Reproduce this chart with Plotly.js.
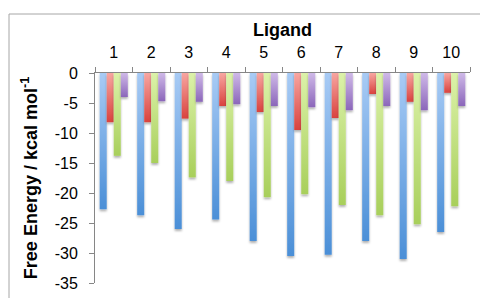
<!DOCTYPE html>
<html>
<head>
<meta charset="utf-8">
<script src="https://cdn.plot.ly/plotly-3.0.1.min.js"></script>
<style>
  html, body { margin: 0; padding: 0; background: #ffffff; }
  #chart { width: 480px; height: 298px; }
</style>
</head>
<body>
<div id="chart"></div>
<script>
// ---- data ----
const ligands = ['1', '2', '3', '4', '5', '6', '7', '8', '9', '10'];
const seriesBlue   = [-22.7, -23.7, -26.0, -24.4, -28.0, -30.5, -30.3, -28.0, -31.0, -26.5];
const seriesRed    = [-8.2, -8.2, -7.6, -5.5, -6.5, -9.5, -7.5, -3.5, -4.8, -3.3];
const seriesGreen  = [-13.8, -15.0, -17.4, -18.0, -20.7, -20.2, -22.0, -23.7, -25.2, -22.2];
const seriesPurple = [-4.0, -4.7, -4.8, -5.2, -5.5, -5.7, -6.2, -5.5, -6.2, -5.5];
const yTicks = [0, -5, -10, -15, -20, -25, -30, -35];

// gradient colours (top -> bottom) and mid colours
const palette = [
  { id: 'gBlue',   top: '#a8cbf5', bottom: '#4b8fd7', mid: '#74a9e7' },
  { id: 'gRed',    top: '#f8a6a1', bottom: '#d9423e', mid: '#ea706b' },
  { id: 'gGreen',  top: '#dcf2a9', bottom: '#a8cf5b', mid: '#c2e182' },
  { id: 'gPurple', top: '#cfb9e8', bottom: '#8b66ba', mid: '#ac8fd2' }
];
const seriesList = [seriesBlue, seriesRed, seriesGreen, seriesPurple];

const traces = seriesList.map((vals, i) => ({
  type: 'bar',
  x: ligands,
  y: vals,
  marker: { color: palette[i].mid, line: { width: 0 } },
  hoverinfo: 'skip',
  showlegend: false
}));

const font = 'Arial, "Liberation Sans", sans-serif';

const layout = {
  width: 480,
  height: 298,
  margin: { l: 95, r: 10, t: 73, b: 15 },
  paper_bgcolor: '#ffffff',
  plot_bgcolor: '#ffffff',
  barmode: 'group',
  bargap: 0.25,
  bargroupgap: 0,
  font: { family: font, color: '#000000', size: 16 },
  xaxis: {
    type: 'category',
    side: 'top',
    showline: true,
    linecolor: '#868686',
    linewidth: 1,
    ticks: 'outside',
    tickson: 'boundaries',
    ticklen: 5,
    tickcolor: '#868686',
    ticklabelstandoff: 8,
    showgrid: false,
    zeroline: false,
    tickfont: { family: font, size: 16, color: '#000000' },
    title: { text: '<b>Ligand</b>', font: { family: font, size: 18, color: '#000000' }, standoff: 2 },
    fixedrange: true
  },
  yaxis: {
    range: [-35, 0],
    tickvals: yTicks,
    ticktext: yTicks.map(String),
    showline: true,
    linecolor: '#868686',
    linewidth: 1,
    ticks: 'outside',
    ticklen: 5,
    tickcolor: '#868686',
    ticklabelstandoff: 8,
    showgrid: false,
    zeroline: false,
    tickfont: { family: font, size: 16, color: '#000000' },
    title: { text: '<b>Free Energy / kcal mol<sup>-1</sup></b>', font: { family: font, size: 18, color: '#000000' }, standoff: 12 },
    fixedrange: true
  },
  shapes: [{
    type: 'rect',
    xref: 'paper', yref: 'paper',
    x0: (9 - 95) / 375, x1: 1.2,
    y0: -0.2, y1: 1 + (73 - 14) / 210,
    line: { color: '#a6a6a6', width: 1 },
    fillcolor: 'rgba(0,0,0,0)',
    layer: 'below'
  }]
};

Plotly.newPlot('chart', traces, layout, { staticPlot: true, displayModeBar: false }).then(gd => {
  const svg = gd.querySelector('.main-svg');
  const ns = 'http://www.w3.org/2000/svg';
  let defs = svg.querySelector('defs');
  if (!defs) { defs = document.createElementNS(ns, 'defs'); svg.insertBefore(defs, svg.firstChild); }
  palette.forEach(p => {
    const g = document.createElementNS(ns, 'linearGradient');
    g.setAttribute('id', p.id);
    g.setAttribute('x1', '0'); g.setAttribute('y1', '0');
    g.setAttribute('x2', '0'); g.setAttribute('y2', '1');
    [[0, p.top], [1, p.bottom]].forEach(([o, c]) => {
      const s = document.createElementNS(ns, 'stop');
      s.setAttribute('offset', o);
      s.setAttribute('stop-color', c);
      g.appendChild(s);
    });
    defs.appendChild(g);
  });
  const f = document.createElementNS(ns, 'filter');
  f.setAttribute('id', 'barShadow');
  f.setAttribute('x', '-50%'); f.setAttribute('y', '-10%');
  f.setAttribute('width', '200%'); f.setAttribute('height', '130%');
  const ds = document.createElementNS(ns, 'feDropShadow');
  ds.setAttribute('dx', '0'); ds.setAttribute('dy', '2');
  ds.setAttribute('stdDeviation', '1.3');
  ds.setAttribute('flood-color', '#000000');
  ds.setAttribute('flood-opacity', '0.3');
  f.appendChild(ds);
  defs.appendChild(f);

  const traceGroups = gd.querySelectorAll('.barlayer .trace');
  traceGroups.forEach((tg, i) => {
    tg.querySelectorAll('path').forEach(p => {
      p.style.fill = 'url(#' + palette[i].id + ')';
      p.setAttribute('filter', 'url(#barShadow)');
    });
  });
});
</script>
</body>
</html>
